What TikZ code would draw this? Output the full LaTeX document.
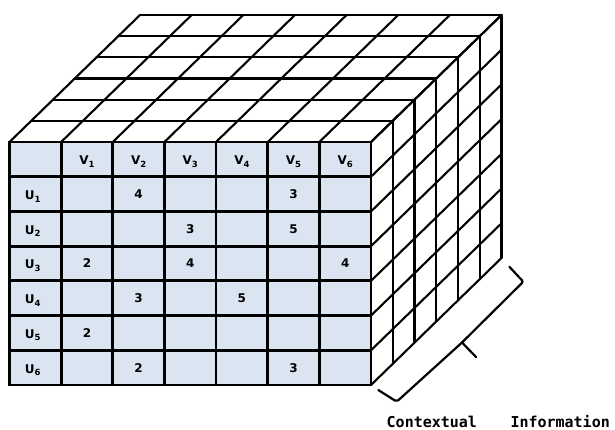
\documentclass[tikz,border=0pt]{standalone}
\usepackage{fontspec}
\setmainfont{DejaVu Sans}
\newfontfamily\labelmono{DejaVu Sans Mono}
\definecolor{cellfill}{RGB}{219,229,241}
\newcommand{\cellsub}[1]{\raisebox{-2.5pt}{\fontsize{8.5}{9}\selectfont #1}}
\begin{document}
\begin{tikzpicture}[x=1pt,y=-1pt,
  frontline/.style={line width=2.8pt},
  backline/.style={line width=2.1pt,line cap=round},
  bracestyle/.style={line width=2.2pt,line cap=round,line join=round},
  celltext/.style={font=\fontsize{12}{14}\selectfont\bfseries,inner sep=0pt,anchor=base},
  ]
\useasboundingbox (0,0) rectangle (615,430);
\def\xa{9.5}\def\xb{371}\def\ya{142}\def\yb{385}
\def\cw{51.643}\def\ch{34.714}
\def\Dx{130.5}\def\Dy{127}
\def\dx{21.75}\def\dy{21.1667}
% top face
\foreach \k in {0,...,6}{
  \draw[backline] (\xa+\k*\dx, \ya-\k*\dy) -- (\xb+\k*\dx, \ya-\k*\dy);
}
\foreach \i in {0,...,7}{
  \draw[backline] (\xa+\i*\cw, \ya) -- (\xa+\i*\cw+\Dx, \ya-\Dy);
}
% right face
\foreach \k in {0,...,6}{
  \draw[backline] (\xb+\k*\dx, \ya-\k*\dy) -- (\xb+\k*\dx, \yb-\k*\dy);
}
\foreach \j in {0,...,7}{
  \draw[backline] (\xb, \ya+\j*\ch) -- (\xb+\Dx, \ya+\j*\ch-\Dy);
}
% front face
\fill[cellfill] (\xa,\ya) rectangle (\xb,\yb);
\foreach \i in {1,...,6}{
  \draw[frontline] (\xa+\i*\cw, \ya) -- (\xa+\i*\cw, \yb);
  \draw[frontline] (\xa, \ya+\i*\ch) -- (\xb, \ya+\i*\ch);
}
\draw[frontline] (\xa,\ya) rectangle (\xb,\yb);
% labels
\foreach \i in {1,...,6}{
  \node[celltext] (v\i) at (\xa+\i*\cw+0.5*\cw, \ya+0.5*\ch+5.5) {V\cellsub{\i}};
  \node[celltext] (u\i) at (\xa+0.45*\cw, \ya+\i*\ch+0.5*\ch+5.5) {U\cellsub{\i}};
}
\foreach \i/\j/\v in {2/1/4,5/1/3,3/2/3,5/2/5,1/3/2,3/3/4,6/3/4,2/4/3,4/4/5,1/5/2,2/6/2,5/6/3}{
  \node[celltext] (n\i\j) at (\xa+\i*\cw+0.5*\cw, \ya+\j*\ch+0.5*\ch+4.5) {\v};
}
% brace
\draw[bracestyle,rounded corners=2pt] (509.3,266.7) -- (523.3,281.7) -- (462,342.5);
\draw[bracestyle,rounded corners=2pt] (462,342.5) -- (396.7,401.7) -- (378.3,390);
\draw[bracestyle] (462,342.5) -- (476,357);
% caption
\node[font=\labelmono\bfseries\fontsize{15}{17}\selectfont,inner sep=0pt,anchor=base west] (ctx) at (386.5,427) {Contextual\hspace{33.5pt}Information};
\end{tikzpicture}
\end{document}
